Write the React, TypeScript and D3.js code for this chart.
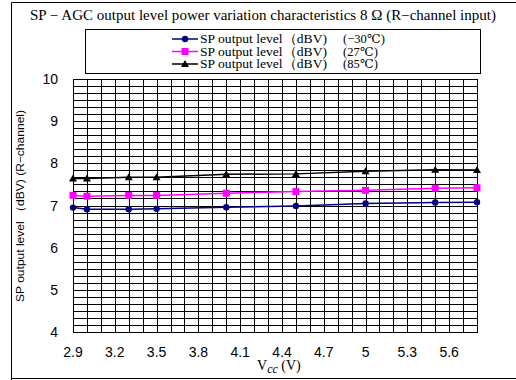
import React from "react";
import * as d3 from "d3";

const vcc = [2.9, 3.0, 3.3, 3.5, 4.0, 4.5, 5.0, 5.5, 5.8];
const levelMinus30 = [6.95, 6.91, 6.91, 6.92, 6.96, 6.99, 7.05, 7.07, 7.08];
const level27 = [7.24, 7.22, 7.24, 7.24, 7.29, 7.33, 7.36, 7.41, 7.42];
const level85 = [7.64, 7.64, 7.67, 7.67, 7.74, 7.75, 7.81, 7.85, 7.84];
const xTickLabels = ["2.9", "3.2", "3.5", "3.8", "4.1", "4.4", "4.7", "5", "5.3", "5.6"];
const yTickLabels = ["4", "5", "6", "7", "8", "9", "10"];
const legendTemps = ["(−30℃)", "(27℃)", "(85℃)"];

const W = 516, H = 380;
const left = 73, right = 477, top = 79, bottom = 332;

export default function App() {
  const x = d3.scaleLinear().domain([2.9, 5.8]).range([left, right]);
  const y = d3.scaleLinear().domain([4, 10]).range([bottom, top]);
  const vGrid = d3.range(0, 30).map((i) => 2.9 + i * 0.1);
  const hGrid = d3.range(0, 37).map((i) => 4 + i / 6);
  const series = [
    { vals: levelMinus30, color: "#000080", marker: "circle" },
    { vals: level27, color: "#FF00FF", marker: "square" },
    { vals: level85, color: "#000000", marker: "triangle" },
  ];
  const line = d3
    .line<[number, number]>()
    .x((d) => x(d[0]))
    .y((d) => y(d[1]));
  const marker = (m: string, cx: number, cy: number, color: string, key: string) => {
    if (m === "circle") return <circle key={key} cx={cx} cy={cy} r={3.2} fill={color} />;
    if (m === "square") return <rect key={key} x={cx - 3.5} y={cy - 3.5} width={7} height={7} fill={color} />;
    return <path key={key} d={`M${cx},${cy - 4}L${cx + 4},${cy + 3}L${cx - 4},${cy + 3}Z`} fill={color} />;
  };
  const serif = "'Liberation Serif', 'DejaVu Serif', serif";
  const sans = "'Liberation Sans', Arial, sans-serif";
  return (
    <svg width={W} height={H} style={{ position: "absolute", left: 0, top: 0, background: "#fff" }}>
      <rect x={0} y={0} width={W} height={H} fill="#fff" />
      {/* outer frame */}
      <path d={`M11.5,${H}V2.5H${W}`} fill="none" stroke="#000" strokeWidth={1} />
      <line x1={11} x2={W} y1={378.5} y2={378.5} stroke="#000" strokeWidth={1} />
      <text x={263} y={20} textAnchor="middle" fontFamily={serif} fontSize={14} textLength={466} lengthAdjust="spacingAndGlyphs">
        SP − AGC output level power variation characteristics 8 Ω (R−channel input)
      </text>
      {/* legend */}
      <rect x={85.5} y={29.5} width={395} height={44} fill="#fff" stroke="#000" strokeWidth={1} />
      {series.map((s, i) => {
        const ly = 39 + i * 12.5;
        return (
          <g key={i}>
            <line x1={172} x2={198} y1={ly} y2={ly} stroke={s.color} strokeWidth={1.5} />
            {marker(s.marker, 185, ly, s.color, "lm" + i)}
            <text x={200} y={ly + 4} fontFamily={serif} fontSize={12.5} textLength={127} lengthAdjust="spacingAndGlyphs">
              SP output level（dBV)
            </text>
            <text x={343} y={ly + 4} fontFamily={serif} fontSize={12.5}>
              {legendTemps[i]}
            </text>
          </g>
        );
      })}
      {/* grid */}
      {hGrid.map((v, i) => (
        <line key={"h" + i} x1={left} x2={right} y1={Math.round(y(v)) + 0.5} y2={Math.round(y(v)) + 0.5} stroke="#000" strokeWidth={1} />
      ))}
      {vGrid.map((v, i) => (
        <line key={"v" + i} x1={Math.round(x(v)) + 0.5} x2={Math.round(x(v)) + 0.5} y1={top} y2={bottom} stroke="#000" strokeWidth={1} />
      ))}
      <rect x={left + 0.5} y={top + 0.5} width={right - left} height={bottom - top} fill="none" stroke="#000" strokeWidth={1} />
      {/* series */}
      {series.map((s, i) => (
        <g key={"s" + i}>
          <path d={line(vcc.map((v, j) => [v, s.vals[j]] as [number, number])) || ""} fill="none" stroke={s.color} strokeWidth={1.5} />
          {vcc.map((v, j) => marker(s.marker, x(v), y(s.vals[j]), s.color, `m${i}-${j}`))}
        </g>
      ))}
      {/* y ticks */}
      {yTickLabels.map((t) => (
        <text key={"y" + t} x={58} y={y(+t) + 5} textAnchor="end" fontFamily={sans} fontSize={14}>
          {t}
        </text>
      ))}
      {xTickLabels.map((t) => (
        <text key={"x" + t} x={x(+t)} y={357} textAnchor="middle" fontFamily={sans} fontSize={14}>
          {t}
        </text>
      ))}
      <text transform="translate(24,206) rotate(-90)" textAnchor="middle" fontFamily={sans} fontSize={11} textLength={192} lengthAdjust="spacingAndGlyphs">
        SP output level （dBV) (R−channel)
      </text>
      <text x={257} y={370} fontFamily={serif} fontSize={14}>
        V
        <tspan fontStyle="italic" fontSize={12} dy={3}>cc</tspan>
        <tspan dy={-3}> (V)</tspan>
      </text>
    </svg>
  );
}
